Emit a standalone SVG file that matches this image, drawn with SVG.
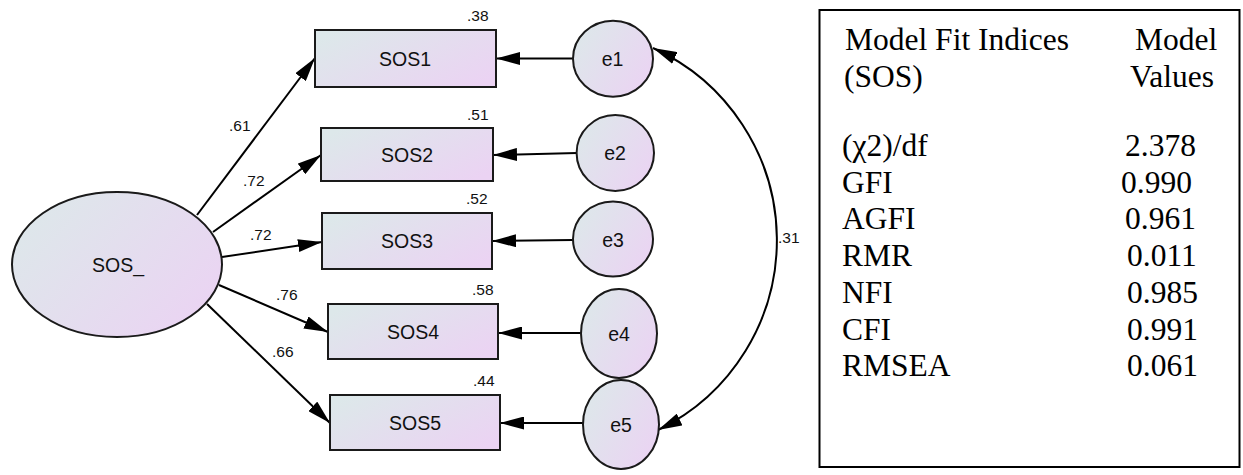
<svg xmlns="http://www.w3.org/2000/svg" width="1243" height="475" viewBox="0 0 1243 475">
  <defs>
    <linearGradient id="fillGrad" x1="0" y1="0.2" x2="1" y2="0.8">
      <stop offset="0" stop-color="#dde8ea"/>
      <stop offset="1" stop-color="#ebd3f3"/>
    </linearGradient>
    <marker id="arrow" markerUnits="userSpaceOnUse" markerWidth="24" markerHeight="13" refX="24" refY="6.5" orient="auto-start-reverse">
      <path d="M0,0 L24,6.5 L0,13 z" fill="#000"/>
    </marker>
  </defs>
  <style>
    .node { fill: url(#fillGrad); stroke: #1a1a1a; stroke-width: 2; }
    .lbl { font-family: "Liberation Sans", Arial, sans-serif; font-size: 19.5px; fill: #111; text-anchor: middle; }
    .num { font-family: "Liberation Sans", Arial, sans-serif; font-size: 15.5px; fill: #111; }
    .conn { stroke: #000; stroke-width: 2; fill: none; marker-end: url(#arrow); }
    .tbl { font-family: "Liberation Serif", "Times New Roman", serif; font-size: 31.5px; fill: #000; }
  </style>
  <rect width="1243" height="475" fill="#fff"/>

  <g id="connectors">
    <line class="conn" x1="197" y1="215" x2="315" y2="58"/>
    <line class="conn" x1="213" y1="232" x2="321" y2="155"/>
    <line class="conn" x1="222" y1="257" x2="322" y2="242"/>
    <line class="conn" x1="219" y1="285" x2="328" y2="332"/>
    <line class="conn" x1="207" y1="304" x2="330" y2="423"/>
    <line class="conn" x1="573" y1="58.5" x2="496" y2="58.5"/>
    <line class="conn" x1="577" y1="153" x2="493" y2="155"/>
    <line class="conn" x1="573" y1="240" x2="492" y2="241"/>
    <line class="conn" x1="581" y1="333" x2="498" y2="333"/>
    <line class="conn" x1="583" y1="423" x2="500" y2="423"/>
    <path class="conn" d="M653,48 A211,211 0 0 1 658,430" marker-start="url(#arrow)"/>
    <text class="num" x="229" y="131">.61</text>
    <text class="num" x="243" y="186">.72</text>
    <text class="num" x="250" y="240">.72</text>
    <text class="num" x="276" y="300">.76</text>
    <text class="num" x="272" y="357">.66</text>
    <text class="num" x="778" y="243">.31</text>
  </g>

  <g id="SOS_">
    <ellipse class="node" cx="117" cy="264.5" rx="105" ry="72.5"/>
    <text class="lbl" x="118" y="272">SOS_</text>
  </g>

  <g id="SOS1">
    <rect class="node" x="315" y="30" width="181" height="57"/>
    <text class="lbl" x="405" y="65.5">SOS1</text>
    <text class="num" x="467" y="21">.38</text>
  </g>
  <g id="SOS2">
    <rect class="node" x="321" y="128" width="172" height="53"/>
    <text class="lbl" x="407" y="161.5">SOS2</text>
    <text class="num" x="467" y="120">.51</text>
  </g>
  <g id="SOS3">
    <rect class="node" x="322" y="213" width="170" height="56"/>
    <text class="lbl" x="407" y="248">SOS3</text>
    <text class="num" x="466" y="204">.52</text>
  </g>
  <g id="SOS4">
    <rect class="node" x="328" y="304" width="170" height="55"/>
    <text class="lbl" x="413" y="338.5">SOS4</text>
    <text class="num" x="472" y="295">.58</text>
  </g>
  <g id="SOS5">
    <rect class="node" x="330" y="395" width="170" height="55"/>
    <text class="lbl" x="415" y="429.5">SOS5</text>
    <text class="num" x="473" y="386">.44</text>
  </g>

  <g id="e1">
    <ellipse class="node" cx="613" cy="58.7" rx="40" ry="38"/>
    <text class="lbl" x="612.5" y="65.5">e1</text>
  </g>
  <g id="e2">
    <ellipse class="node" cx="615.3" cy="153" rx="38.7" ry="38"/>
    <text class="lbl" x="615" y="160">e2</text>
  </g>
  <g id="e3">
    <ellipse class="node" cx="613" cy="239" rx="40" ry="37.5"/>
    <text class="lbl" x="613" y="246.5">e3</text>
  </g>
  <g id="e4">
    <ellipse class="node" cx="619" cy="333.5" rx="38" ry="44.5"/>
    <text class="lbl" x="619" y="341">e4</text>
  </g>
  <g id="e5">
    <ellipse class="node" cx="621" cy="424.5" rx="38" ry="44.5"/>
    <text class="lbl" x="621" y="431.5">e5</text>
  </g>

  <g id="fit-table">
    <rect x="819.5" y="10" width="420" height="457" fill="#fff" stroke="#000" stroke-width="2"/>
    <text class="tbl" x="845" y="50">Model Fit Indices</text>
    <text class="tbl" x="844" y="87">(SOS)</text>
    <text class="tbl" x="1135" y="50">Model</text>
    <text class="tbl" x="1130" y="87">Values</text>
    <text class="tbl" x="842" y="156">(χ2)/df</text>
    <text class="tbl" x="842" y="192.7">GFI</text>
    <text class="tbl" x="842" y="229.4">AGFI</text>
    <text class="tbl" x="842" y="266">RMR</text>
    <text class="tbl" x="842" y="302.8">NFI</text>
    <text class="tbl" x="842" y="339.5">CFI</text>
    <text class="tbl" x="842" y="376">RMSEA</text>
    <text class="tbl" x="1125" y="156">2.378</text>
    <text class="tbl" x="1121" y="192.7">0.990</text>
    <text class="tbl" x="1125" y="229.4">0.961</text>
    <text class="tbl" x="1127" y="266">0.011</text>
    <text class="tbl" x="1127" y="302.8">0.985</text>
    <text class="tbl" x="1127" y="339.5">0.991</text>
    <text class="tbl" x="1127" y="376">0.061</text>
  </g>
</svg>
